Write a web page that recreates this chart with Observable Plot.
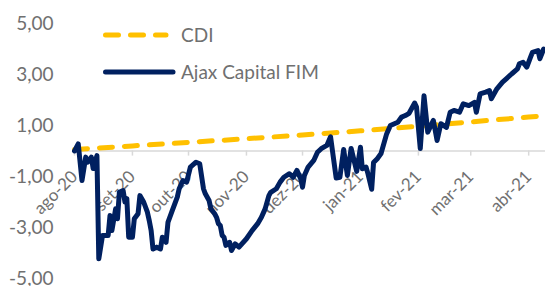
<!DOCTYPE html>
<html><head><meta charset="utf-8">
<script src="https://cdn.jsdelivr.net/npm/d3@7"></script>
<script src="https://cdn.jsdelivr.net/npm/@observablehq/plot@0.6"></script>
<style>
html,body{margin:0;padding:0;background:#fff;}
#chart{position:relative;width:545px;height:286px;font-family:Lato,sans-serif;}
#legend{position:absolute;left:0;top:0;pointer-events:none;}
</style></head><body><div id="chart"></div>
<script>
const ajaxDates = ["2020-08-01","2020-08-03","2020-08-05","2020-08-07","2020-08-08","2020-08-10","2020-08-11","2020-08-13","2020-08-14","2020-08-16","2020-08-19","2020-08-20","2020-08-21","2020-08-23","2020-08-24","2020-08-25","2020-08-27","2020-08-28","2020-08-29","2020-08-30","2020-09-01","2020-09-02","2020-09-04","2020-09-05","2020-09-07","2020-09-09","2020-09-10","2020-09-11","2020-09-12","2020-09-14","2020-09-16","2020-09-17","2020-09-18","2020-09-19","2020-09-20","2020-09-22","2020-09-25","2020-09-26","2020-09-28","2020-09-30","2020-10-02","2020-10-05","2020-10-07","2020-10-09","2020-10-10","2020-10-12","2020-10-13","2020-10-15","2020-10-16","2020-10-17","2020-10-18","2020-10-19","2020-10-20","2020-10-21","2020-10-23","2020-10-24","2020-10-26","2020-10-28","2020-11-01","2020-11-04","2020-11-07","2020-11-09","2020-11-11","2020-11-13","2020-11-14","2020-11-17","2020-11-19","2020-11-21","2020-11-24","2020-11-26","2020-11-28","2020-11-30","2020-12-01","2020-12-02","2020-12-04","2020-12-07","2020-12-09","2020-12-11","2020-12-14","2020-12-16","2020-12-19","2020-12-21","2020-12-23","2020-12-25","2020-12-27","2020-12-30","2021-01-01","2021-01-02","2021-01-04","2021-01-05","2021-01-07","2021-01-08","2021-01-10","2021-01-12","2021-01-15","2021-01-17","2021-01-21","2021-01-23","2021-01-25","2021-01-27","2021-01-30","2021-01-31","2021-02-02","2021-02-04","2021-02-06","2021-02-09","2021-02-11","2021-02-13","2021-02-16","2021-02-18","2021-02-20","2021-02-23","2021-02-25","2021-02-28","2021-03-03","2021-03-04","2021-03-06","2021-03-09","2021-03-11","2021-03-12","2021-03-15","2021-03-18","2021-03-20","2021-03-23","2021-03-26","2021-03-27","2021-03-29","2021-03-31","2021-04-02","2021-04-03","2021-04-06","2021-04-07","2021-04-09"];
const ajaxValues = [0.00,0.28,-1.16,-0.24,-0.44,-0.24,-0.69,-0.18,-4.23,-3.31,-3.31,-2.53,-3.12,-2.27,-2.66,-1.62,-1.55,-2.00,-1.87,-3.38,-3.38,-2.66,-2.46,-1.75,-2.00,-2.40,-2.73,-3.12,-3.84,-3.77,-3.84,-3.38,-3.44,-3.58,-2.80,-2.40,-1.81,-1.48,-1.16,-1.22,-0.63,-0.44,-0.50,-1.48,-1.68,-1.94,-2.27,-2.46,-2.60,-2.85,-2.92,-3.31,-3.38,-3.70,-3.58,-3.90,-3.64,-3.77,-3.44,-3.12,-2.85,-2.60,-2.27,-1.75,-1.62,-1.48,-1.22,-1.03,-0.89,-1.03,-0.76,-1.09,-1.42,-0.96,-0.63,-0.37,-0.05,0.09,0.22,0.56,-1.06,-1.03,0.06,-0.96,0.10,-0.80,0.15,-0.70,-0.63,-0.89,-1.50,-0.45,-0.30,-0.10,0.67,1.00,1.13,1.33,1.39,1.48,1.88,1.72,0.10,2.17,0.74,1.20,0.41,1.07,0.93,1.52,1.59,1.52,1.85,1.78,1.91,1.52,2.24,2.31,2.37,2.05,2.44,2.70,2.83,3.03,3.22,3.42,3.48,3.29,3.68,3.87,3.94,3.62,4.00];
const cdiDates = ["2020-08-01","2020-09-01","2020-10-01","2020-11-01","2020-12-01","2021-01-01","2021-02-01","2021-03-01","2021-04-01","2021-04-10"];
const cdiValues = [0.06,0.20,0.34,0.48,0.63,0.79,0.97,1.14,1.33,1.39];
const monthTicks = ["2020-08-01","2020-09-01","2020-10-01","2020-11-01","2020-12-01","2021-01-01","2021-02-01","2021-03-01","2021-04-01"];
const monthLabels = ["ago-20","set-20","out-20","nov-20","dez-20","jan-21","fev-21","mar-21","abr-21"];
const yTicks = [-5,-3,-1,1,3,5];
const seriesNames = ["CDI","Ajax Capital FIM"];
const seriesColors = ["#FFC000","#002060"];

const parse = d3.utcParse("%Y-%m-%d");
const ajax = ajaxDates.map((d,i)=>({date: parse(d), value: ajaxValues[i]}));
const cdi = cdiDates.map((d,i)=>({date: parse(d), value: cdiValues[i]}));
const ticks = monthTicks.map((d,i)=>({date: parse(d), label: monthLabels[i]}));
const fmt = v => (v<0?"-":"") + Math.abs(v).toFixed(2).replace(".",",");
const textColor = "#707070";

const plot = Plot.plot({
  width: 545, height: 286,
  marginLeft: 74, marginRight: 0, marginTop: 23, marginBottom: 8,
  style: {fontFamily: "Lato, sans-serif", fontSize: "19px", color: textColor, background: "#fff", overflow: "visible"},
  x: {type: "utc", domain: [parse("2020-08-01"), parse("2021-04-10")], axis: null},
  y: {domain: [-5,5], label: null},
  marks: [
    Plot.axisY({ticks: yTicks, tickSize: 0, tickPadding: 21, tickFormat: fmt, fontSize: 19, fill: textColor, label: null}),
    Plot.ruleY([0], {stroke: "#d9d9d9", strokeWidth: 1.5}),
    Plot.ruleX(ticks, {x: "date", y1: 0, y2: -0.2, stroke: "#d9d9d9", strokeWidth: 1.5}),
    Plot.text(ticks, {x: "date", y: 0, text: "label", rotate: -45, textAnchor: "end", dx: 0, dy: 23, fill: textColor, fontSize: 17}),
    Plot.line(cdi, {x: "date", y: "value", stroke: seriesColors[0], strokeWidth: 5, strokeDasharray: "13,12", strokeLinecap: "round"}),
    Plot.line(ajax, {x: "date", y: "value", stroke: seriesColors[1], strokeWidth: 5, strokeLinejoin: "round", strokeLinecap: "round"})
  ]
});
const chart = document.getElementById("chart");
chart.appendChild(plot);

const ns = "http://www.w3.org/2000/svg";
const lg = document.createElementNS(ns, "svg");
lg.setAttribute("id","legend"); lg.setAttribute("width",545); lg.setAttribute("height",286);
const rows = [{y:35, x2:166, dash:"13,12", w:5}, {y:72, x2:173, dash:null, w:5}];
rows.forEach((r,i)=>{
  const l = document.createElementNS(ns,"line");
  l.setAttribute("x1",105.5); l.setAttribute("x2",r.x2); l.setAttribute("y1",r.y); l.setAttribute("y2",r.y);
  l.setAttribute("stroke",seriesColors[i]); l.setAttribute("stroke-width",r.w); l.setAttribute("stroke-linecap","round");
  if (r.dash) l.setAttribute("stroke-dasharray", r.dash);
  lg.appendChild(l);
  const t = document.createElementNS(ns,"text");
  t.setAttribute("x",181); t.setAttribute("y",r.y); t.setAttribute("dy","0.35em");
  t.setAttribute("fill",textColor); t.setAttribute("font-size","19"); t.setAttribute("font-family","Lato, sans-serif");
  t.textContent = seriesNames[i];
  lg.appendChild(t);
});
chart.appendChild(lg);
</script></body></html>
